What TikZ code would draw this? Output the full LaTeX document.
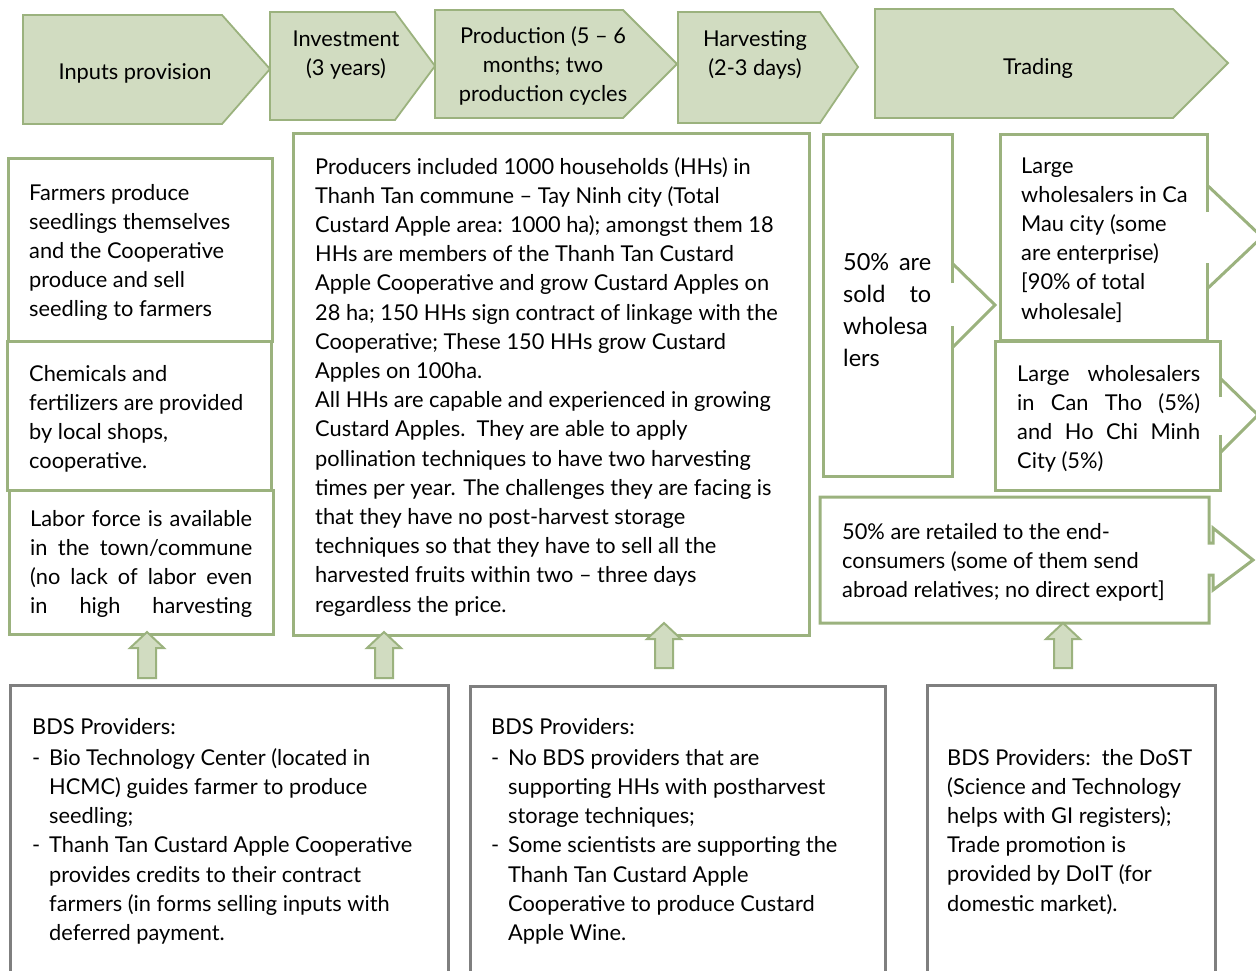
\documentclass[tikz,border=0pt]{standalone}
\usepackage{fontspec}
\setmainfont{Lato}
\definecolor{sage}{HTML}{9BB27E}
\definecolor{sagefill}{HTML}{D1DCC1}
\definecolor{bdsgray}{HTML}{7F7F7F}
\newcommand\bodyfont{\fontsize{21.8}{29.2}\selectfont}
\newcommand\bigfont{\fontsize{23.5}{32}\selectfont}
\newcommand\textrow[1]{\hbox{\strut #1}}
\newcommand\justrow[2]{\hbox to #1{\strut #2}}
\newcommand\dashitem[1]{\hbox{\strut\hbox to 17pt{-\hfil}#1}}
\newcommand\contitem[1]{\hbox{\strut\hskip 17pt #1}}
\tikzset{
  stage/.style={draw=sage, fill=sagefill, line width=1.8pt, line join=miter},
  stagetext/.style={align=center, inner sep=0pt, font=\bodyfont},
  infobox/.style={draw=sage, line width=3pt, line join=miter},
  bdsbox/.style={draw=bdsgray, line width=3pt},
  uparrow/.style={draw=sage, fill=sagefill, line width=2pt, line join=miter},
  body/.style={anchor=base west, inner sep=0pt, font=\bodyfont},
}
% block arrow pointing up: centre x, tip y, head base y, bottom y
\newcommand\blockup[4]{%
  \draw[uparrow] (#1,#2) -- (#1+17,#3) -- (#1+9,#3) -- (#1+9,#4) --
    (#1-9,#4) -- (#1-9,#3) -- (#1-17,#3) -- cycle;}
\begin{document}
\begin{tikzpicture}[x=1pt,y=-1pt]
\useasboundingbox (0,0) rectangle (1256,970);

% ---- value chain stages ----
\draw[stage] (23,15) -- (222,15) -- (270,69) -- (222,124) -- (23,124) -- cycle;
\draw[stage] (270,12) -- (395,12) -- (435,66) -- (395,120) -- (270,120) -- cycle;
\draw[stage] (435,10) -- (623,10) -- (677,64) -- (623,118) -- (435,118) -- cycle;
\draw[stage] (678,12) -- (820,12) -- (858,67) -- (820,123) -- (678,123) -- cycle;
\draw[stage] (875,9) -- (1173,9) -- (1228,63) -- (1173,118) -- (875,118) -- cycle;
\node[stagetext] (inputs) at (135,73) {Inputs provision};
\node[stagetext] (invest) at (346,55) {Investment\\(3 years)};
\node[stagetext] (prod) at (543,66) {Production (5 -- 6\\months; two\\production cycles};
\node[stagetext] (harv) at (755,55) {Harvesting\\(2-3 days)};
\node[stagetext] (trade) at (1038,68) {Trading};

% ---- inputs column ----
\draw[infobox] (8,158) rectangle (272,341);
\draw[infobox] (7,341) rectangle (271,490);
\draw[infobox] (9,490) rectangle (273,634);
\node[body] (seed) at (29,200) {\vtop{\textrow{Farmers produce}\textrow{seedlings themselves}%
  \textrow{and the Cooperative}\textrow{produce and sell}\textrow{seedling to farmers}}};
\node[body] (chem) at (29,381) {\vtop{\textrow{Chemicals and}\textrow{fertilizers are provided}%
  \textrow{by local shops,}\textrow{cooperative.}}};
\node[body] (labor) at (30,526) {\vtop{\justrow{222pt}{Labor force is available}%
  \justrow{222pt}{in the town/commune}\justrow{222pt}{(no lack of labor even}%
  \justrow{222pt}{in high harvesting}}};

% ---- producers ----
\draw[infobox] (293,133) rectangle (809,635);
\node[body] (producers) at (315,174) {\vtop{%
  \textrow{Producers included 1000 households (HHs) in}
  \textrow{Thanh Tan commune -- Tay Ninh city (Total}
  \textrow{Custard Apple area: 1000 ha); amongst them 18}
  \textrow{HHs are members of the Thanh Tan Custard}
  \textrow{Apple Cooperative and grow Custard Apples on}
  \textrow{28 ha; 150 HHs sign contract of linkage with the}
  \textrow{Cooperative; These 150 HHs grow Custard}
  \textrow{Apples on 100ha.}
  \textrow{All HHs are capable and experienced in growing}
  \textrow{Custard Apples.\ \ They are able to apply}
  \textrow{pollination techniques to have two harvesting}
  \textrow{times per year. The challenges they are facing is}
  \textrow{that they have no post-harvest storage}
  \textrow{techniques so that they have to sell all the}
  \textrow{harvested fruits within two -- three days}
  \textrow{regardless the price.}}};

% ---- trading ----
\draw[infobox] (952,283) -- (952,134) -- (823,134) -- (823,476) -- (952,476) -- (952,326);
\draw[infobox] (952,263) -- (995,305) -- (952,348);
\node[body, font=\bigfont] (sold) at (843,270) {\vtop{\justrow{88pt}{50\% are}\justrow{88pt}{sold to}%
  \textrow{wholesa}\textrow{lers}}};

\draw[infobox] (1207,212) -- (1207,134) -- (1000,134) -- (1000,340) -- (1207,340) -- (1207,263);
\draw[infobox] (1207,185) -- (1262,237) -- (1207,289);
\node[body] (camau) at (1021,173) {\vtop{\textrow{Large}\textrow{wholesalers in Ca}\textrow{Mau city (some}%
  \textrow{are enterprise)}\textrow{[90\% of total}\textrow{wholesale]}}};

\draw[infobox] (1220,397) -- (1220,341) -- (995,341) -- (995,490) -- (1220,490) -- (1220,435);
\draw[infobox] (1220,378) -- (1258,415) -- (1220,453);
\node[body] (cantho) at (1017,381) {\vtop{\justrow{183pt}{Large wholesalers}%
  \justrow{183pt}{in Can Tho (5\%)}\justrow{183pt}{and Ho Chi Minh}\textrow{City (5\%)}}};

\draw[infobox] (1209,543) -- (1209,497) -- (820,497) -- (820,623) -- (1209,623) -- (1209,575)
  -- (1213,575) -- (1213,590) -- (1253,560) -- (1213,528) -- (1213,543) -- cycle;
\node[body] (retail) at (842,539) {\vtop{\textrow{50\% are retailed to the end-}%
  \textrow{consumers (some of them send}\textrow{abroad relatives; no direct export]}}};

% ---- support arrows ----
\blockup{147}{632}{648}{678}
\blockup{384}{632}{648}{678}
\blockup{664}{623}{639}{668}
\blockup{1063}{623}{639}{668}

% ---- BDS providers ----
\draw[bdsbox] (10,990) -- (10,685) -- (448,685) -- (448,990);
\draw[bdsbox] (470,990) -- (470,686) -- (885,686) -- (885,990);
\draw[bdsbox] (927,990) -- (927,685) -- (1215,685) -- (1215,990);

\node[body] (bds1) at (32,734) {\vtop{\textrow{BDS Providers:}\vskip2pt
  \dashitem{Bio Technology Center (located in}
  \contitem{HCMC) guides farmer to produce}
  \contitem{seedling;}
  \dashitem{Thanh Tan Custard Apple Cooperative}
  \contitem{provides credits to their contract}
  \contitem{farmers (in forms selling inputs with}
  \contitem{deferred payment.}}};
\node[body] (bds2) at (491,734) {\vtop{\textrow{BDS Providers:}\vskip2pt
  \dashitem{No BDS providers that are}
  \contitem{supporting HHs with postharvest}
  \contitem{storage techniques;}
  \dashitem{Some scientists are supporting the}
  \contitem{Thanh Tan Custard Apple}
  \contitem{Cooperative to produce Custard}
  \contitem{Apple Wine.}}};
\node[body] (bds3) at (947,765) {\vtop{\textrow{BDS Providers:\ \ the DoST}%
  \textrow{(Science and Technology}\textrow{helps with GI registers);}%
  \textrow{Trade promotion is}\textrow{provided by DoIT (for}\textrow{domestic market).}}};
\end{tikzpicture}
\end{document}
